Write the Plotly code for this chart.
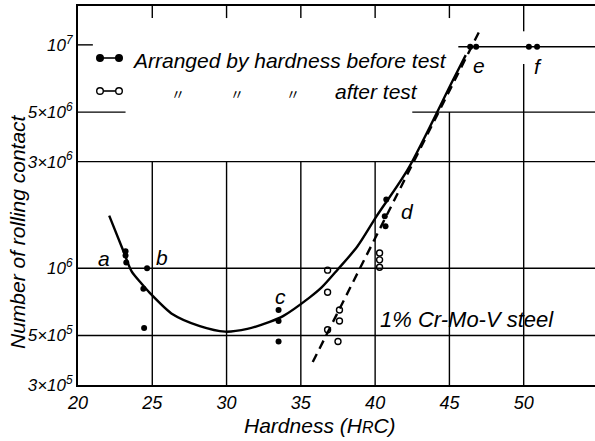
import math
import plotly.graph_objects as go

# ---- data ----
before_x = [23.2, 23.2, 23.25, 24.65, 24.4, 24.45, 33.5, 33.5, 33.5, 40.75, 40.65, 40.7, 46.4, 46.8, 50.35, 50.9]
before_y = [1.19e6, 1.14e6, 1.06e6, 1.0e6, 8.1e5, 5.4e5, 6.5e5, 5.8e5, 4.7e5, 2.03e6, 1.71e6, 1.54e6, 9.8e6, 9.8e6, 9.8e6, 9.8e6]

after_x = [36.8, 36.8, 37.6, 37.6, 36.8, 37.5, 40.3, 40.3, 40.3]
after_y = [9.8e5, 7.8e5, 6.5e5, 5.8e5, 5.3e5, 4.7e5, 1.17e6, 1.09e6, 1.01e6]

curve_x = [22.1, 23.0, 23.6, 24.3, 24.8, 26.4, 28.2, 29.9, 31.4, 32.9, 33.8, 35.6, 36.4, 37.5, 38.8, 40.1, 42.2, 45.25, 46.1]
curve_y = [1.72e6, 1.22e6, 9.7e5, 8.5e5, 7.8e5, 6.2e5, 5.5e5, 5.2e5, 5.35e5, 5.75e5, 6.1e5, 7.4e5, 8.2e5, 9.9e5, 1.25e6, 1.71e6, 2.77e6, 6.98e6, 9.0e6]

dash_x = [35.8, 47.1]
dash_y = [3.8e5, 1.18e7]

label_text = ["a", "b", "c", "d", "e", "f"]
label_x = [21.75, 25.65, 33.6, 42.2, 47.0, 50.95]
label_y = [1.1e6, 1.12e6, 7.5e5, 1.8e6, 8.1e6, 8.0e6]

x_ticks = [20, 25, 30, 35, 40, 45, 50]
y_ticks = [3e5, 5e5, 1e6, 3e6, 5e6, 1e7]
y_ticktext = ["3×10<sup>5</sup>", "5×10<sup>5</sup>", "10<sup>6</sup>", "3×10<sup>6</sup>", "5×10<sup>6</sup>", "10<sup>7</sup>"]

FONT = "Liberation Sans, DejaVu Sans, sans-serif"
X_MIN, X_MAX = 20, 54.8
Y_MIN, Y_MAX = 3e5, 10 ** 7.174

fig = go.Figure()

# grid lines (partial, as on the paper)
line_style = dict(color="black", width=1.4)
shapes = []
for gx in [25, 30, 35, 40]:
    shapes.append(dict(type="line", xref="x", yref="y", x0=gx, x1=gx, y0=Y_MIN, y1=3e6, line=line_style))
    shapes.append(dict(type="line", xref="x", yref="y", x0=gx, x1=gx, y0=10 ** 7.12, y1=Y_MAX, line=line_style))
shapes.append(dict(type="line", xref="x", yref="y", x0=45, x1=45, y0=Y_MIN, y1=5e6, line=line_style))
shapes.append(dict(type="line", xref="x", yref="y", x0=45, x1=45, y0=10 ** 7.12, y1=Y_MAX, line=line_style))
shapes.append(dict(type="line", xref="x", yref="y", x0=50, x1=50, y0=Y_MIN, y1=8.2e6, line=line_style))
shapes.append(dict(type="line", xref="x", yref="y", x0=50, x1=50, y0=1.15e7, y1=Y_MAX, line=line_style))
for gy in [5e5, 1e6, 3e6]:
    shapes.append(dict(type="line", xref="x", yref="y", x0=X_MIN, x1=X_MAX, y0=gy, y1=gy, line=line_style))
shapes.append(dict(type="line", xref="x", yref="y", x0=X_MIN, x1=23.2, y0=5e6, y1=5e6, line=line_style))
shapes.append(dict(type="line", xref="x", yref="y", x0=42.5, x1=X_MAX, y0=5e6, y1=5e6, line=line_style))
shapes.append(dict(type="line", xref="x", yref="y", x0=X_MIN, x1=21.0, y0=1e7, y1=1e7, line=line_style))
shapes.append(dict(type="line", xref="x", yref="y", x0=45.6, x1=X_MAX, y0=9.8e6, y1=9.8e6, line=line_style))

# hand-drawn legend (paper coordinates)
def px(xp):
    return (xp - 78) / 517.0

def py(yp):
    return (385 - yp) / 379.0

for row_y, filled in [(58, True), (91, False)]:
    shapes.append(dict(type="line", xref="paper", yref="paper", x0=px(100), x1=px(119),
                       y0=py(row_y), y1=py(row_y), line=dict(color="black", width=1.6)))
    for cx in [100, 119]:
        shapes.append(dict(type="circle", xref="paper", yref="paper",
                           xsizemode="pixel", ysizemode="pixel",
                           xanchor=px(cx), yanchor=py(row_y), x0=-3.3, x1=3.3, y0=-3.3, y1=3.3,
                           fillcolor="black" if filled else "white",
                           line=dict(color="black", width=1.4)))

fig.add_trace(go.Scatter(x=curve_x, y=curve_y, mode="lines", line=dict(color="black", width=2.4, shape="spline", smoothing=0.8),
                         showlegend=False, hoverinfo="skip"))
fig.add_trace(go.Scatter(x=dash_x, y=dash_y, mode="lines", line=dict(color="black", width=2.4, dash="9px,6px"),
                         showlegend=False, hoverinfo="skip"))
fig.add_trace(go.Scatter(x=before_x, y=before_y, mode="markers", name="before test",
                         marker=dict(symbol="circle", size=6, color="black"), showlegend=False))
fig.add_trace(go.Scatter(x=after_x, y=after_y, mode="markers", name="after test",
                         marker=dict(symbol="circle-open", size=6, color="black", line=dict(width=1.4)), showlegend=False))

ital = dict(family=FONT, color="black", style="italic")
annotations = []
for t, lx, ly in zip(label_text, label_x, label_y):
    annotations.append(dict(x=lx, y=math.log10(ly), xref="x", yref="y", text=t, showarrow=False,
                            xanchor="center", yanchor="middle", font=dict(size=21, **ital)))
annotations.append(dict(x=46.2, y=math.log10(5.9e5), xref="x", yref="y", text="1% Cr-Mo-V steel",
                        xanchor="center", showarrow=False, font=dict(size=22, **ital)))
annotations.append(dict(x=px(130), y=py(60), xref="paper", yref="paper", xanchor="left", yanchor="middle",
                        text="Arranged by hardness before test", showarrow=False, font=dict(size=21, **ital)))
for dx in [178, 237, 293]:
    annotations.append(dict(x=px(dx), y=py(93), xref="paper", yref="paper", text="\u3003", showarrow=False,
                            xanchor="center", yanchor="middle",
                            font=dict(size=14, family="Noto Sans CJK JP", color="black")))
annotations.append(dict(x=px(333), y=py(91), xref="paper", yref="paper", xanchor="left", yanchor="middle",
                        text="after test", showarrow=False, font=dict(size=21, **ital)))
annotations.append(dict(x=px(320), y=py(425), xref="paper", yref="paper", xanchor="center", yanchor="middle",
                        text="Hardness (H<span style='font-size:16px'>R</span>C)", showarrow=False,
                        font=dict(size=21, **ital)))
annotations.append(dict(x=px(17), y=py(232), xref="paper", yref="paper", textangle=-90,
                        xanchor="center", yanchor="middle",
                        text="Number of rolling contact", showarrow=False, font=dict(size=21, **ital)))

fig.update_layout(
    width=595, height=441,
    margin=dict(l=78, r=0, t=6, b=56),
    paper_bgcolor="white", plot_bgcolor="white",
    shapes=shapes, annotations=annotations,
    xaxis=dict(range=[X_MIN, X_MAX], tickvals=x_ticks, ticktext=[str(v) for v in x_ticks],
               showgrid=False, zeroline=False, showline=True, mirror=True, linecolor="black", linewidth=2,
               ticks="", tickfont=dict(size=18, **ital)),
    yaxis=dict(type="log", range=[math.log10(Y_MIN), math.log10(Y_MAX)], tickvals=y_ticks, ticktext=y_ticktext,
               showgrid=False, zeroline=False, showline=True, linecolor="black", linewidth=2,
               ticks="", tickfont=dict(size=17, **ital)),
)

fig.write_html("out.html", config={"displayModeBar": False},
               post_script="document.body.style.margin='0';")
